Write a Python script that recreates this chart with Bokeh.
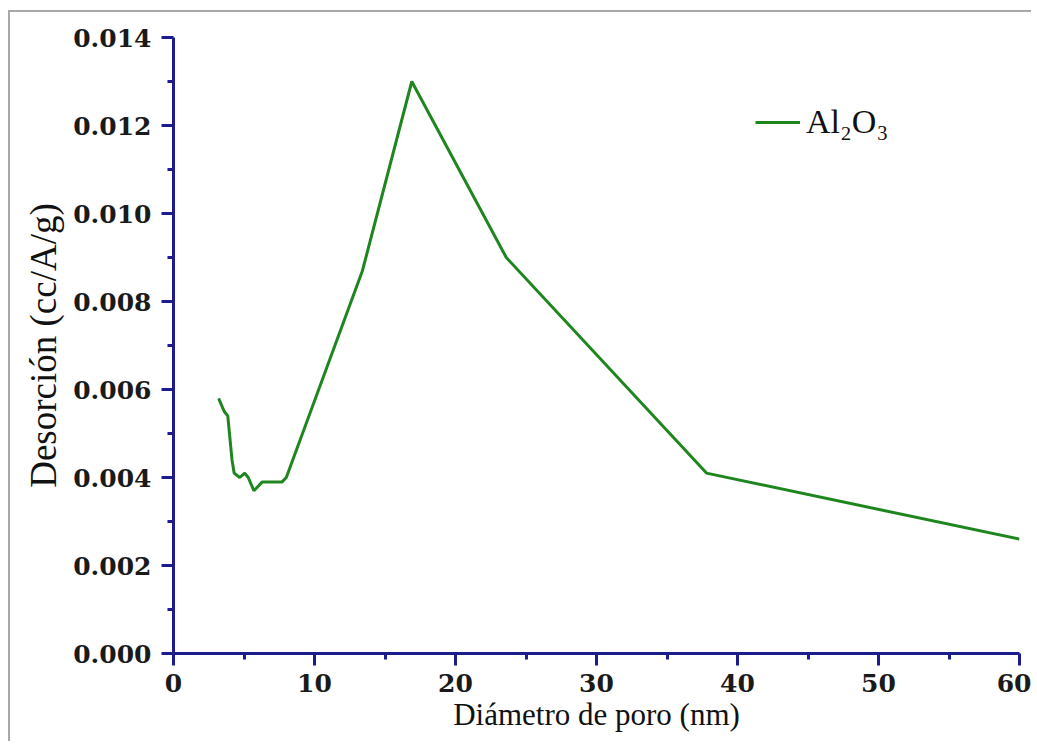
from bokeh.plotting import figure
from bokeh.models import Range1d, FixedTicker, PrintfTickFormatter, Legend, LegendItem
from bokeh.embed import file_html
from bokeh.resources import INLINE

# data
diametro = [3.2, 3.6, 3.85, 4.15, 4.3, 4.7, 5.05, 5.3, 5.7, 6.3, 7.7, 8.0, 13.4, 16.9, 23.6, 37.8, 60.0]
desorcion = [0.0058, 0.0055, 0.0054, 0.0044, 0.0041, 0.0040, 0.0041, 0.0040, 0.0037, 0.0039,
             0.0039, 0.0040, 0.0087, 0.0130, 0.0090, 0.0041, 0.0026]
x_ticks = [0, 10, 20, 30, 40, 50, 60]
x_minor = [5, 15, 25, 35, 45, 55]
y_ticks = [0.000, 0.002, 0.004, 0.006, 0.008, 0.010, 0.012, 0.014]
y_minor = [0.001, 0.003, 0.005, 0.007, 0.009, 0.011, 0.013]
serie = "Al₂O₃"

AX = "#1c1c8c"
GREEN = "#1f861f"

p = figure(width=1023, height=731, output_backend="svg", toolbar_location=None,
           x_range=Range1d(0, 60), y_range=Range1d(0, 0.014),
           min_border_left=163, min_border_top=25, min_border_right=14, min_border_bottom=90)
p.margin = (10, 0, 0, 8)
p.styles = {"border-left": "2px solid #a8a8a8", "border-top": "2px solid #a8a8a8",
            "border-right": "none", "border-bottom": "none"}
p.outline_line_color = None
p.background_fill_color = "#ffffff"
p.border_fill_color = "#ffffff"
p.xgrid.visible = False
p.ygrid.visible = False

r = p.line(diametro, desorcion, line_color=GREEN, line_width=3)

for ax in (p.xaxis[0], p.yaxis[0]):
    ax.axis_line_color = AX
    ax.axis_line_width = 3
    ax.major_tick_line_color = AX
    ax.major_tick_line_width = 3
    ax.minor_tick_line_color = AX
    ax.minor_tick_line_width = 3
    ax.major_tick_out = 12
    ax.major_tick_in = 0
    ax.minor_tick_out = 6
    ax.minor_tick_in = 0
    ax.major_label_text_font = "DejaVu Serif"
    ax.major_label_text_font_style = "bold"
    ax.major_label_text_font_size = "25px"
    ax.major_label_text_color = "#1a1a1a"
    ax.axis_label_text_font = "Liberation Serif"
    ax.axis_label_text_font_style = "normal"
    ax.axis_label_text_color = "#111111"

p.xaxis[0].axis_label_text_font_size = "31px"
p.yaxis[0].axis_label_text_font_size = "37px"
p.xaxis[0].ticker = FixedTicker(ticks=x_ticks, minor_ticks=x_minor)
p.yaxis[0].ticker = FixedTicker(ticks=y_ticks, minor_ticks=y_minor)
p.yaxis[0].formatter = PrintfTickFormatter(format="%.3f")
p.xaxis[0].axis_label = "Diámetro de poro (nm)"
p.yaxis[0].axis_label = "Desorción (cc/A/g)"
p.xaxis[0].major_label_standoff = 8
p.yaxis[0].major_label_standoff = 10
p.xaxis[0].axis_label_standoff = 2
p.yaxis[0].axis_label_standoff = 6

legend = Legend(items=[LegendItem(label=serie, renderers=[r])], location=(582, 512),
                padding=0, margin=0, border_line_color=None, background_fill_alpha=0,
                glyph_width=45, glyph_height=30, label_height=30,
                label_text_font="Liberation Serif", label_text_font_size="34px",
                label_text_color="#111111", label_standoff=6)
p.add_layout(legend, "center")

open("out.html", "w").write(file_html(p, INLINE))
